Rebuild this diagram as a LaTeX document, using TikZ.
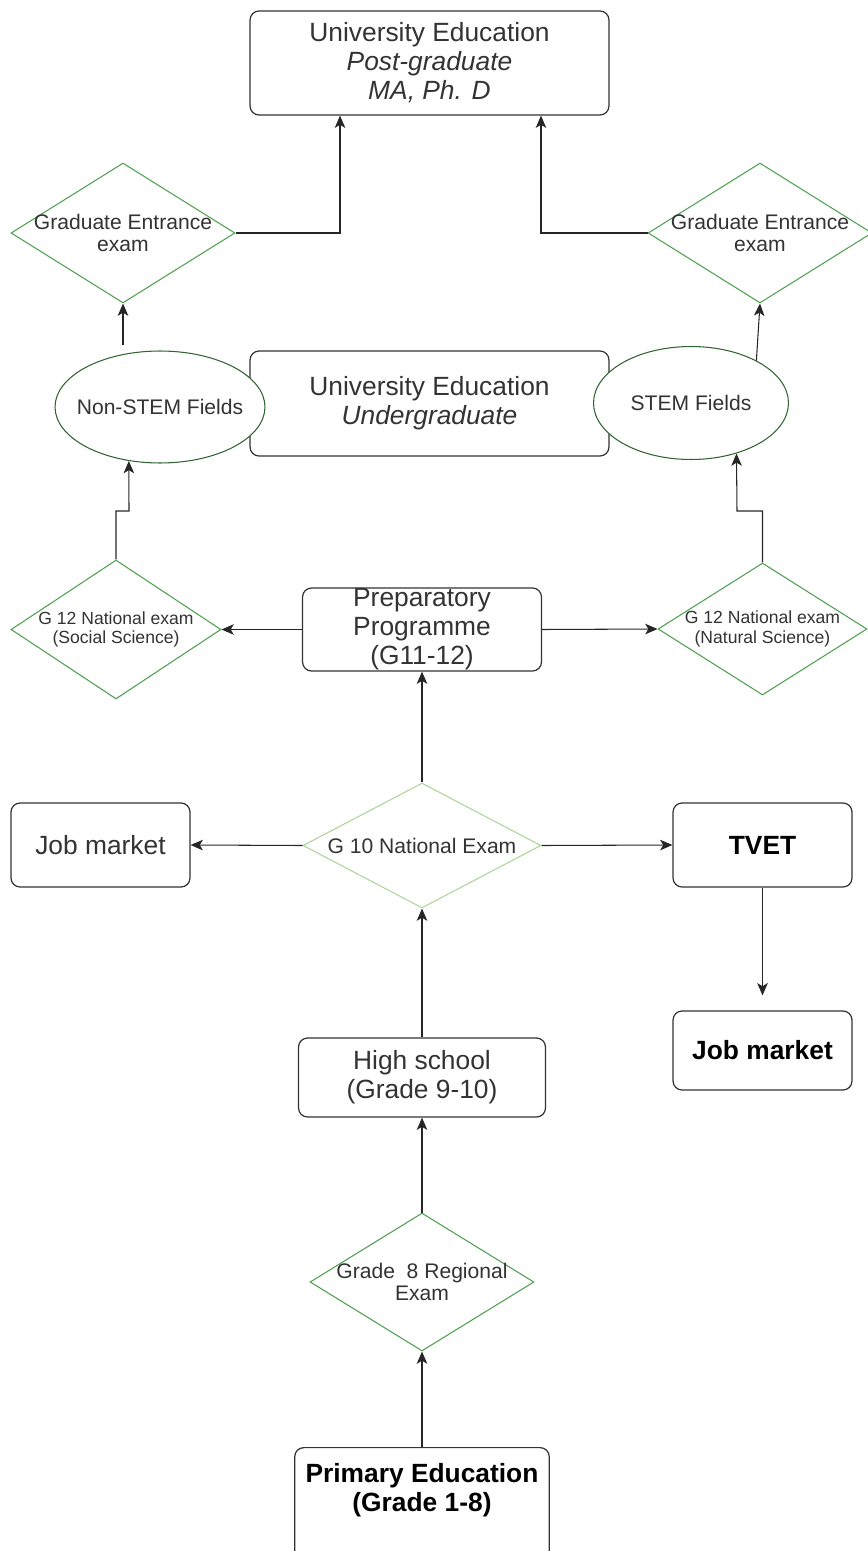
\documentclass[tikz,border=0pt]{standalone}
\usepackage{fontspec}
\setmainfont{Liberation Sans}
\usetikzlibrary{shapes.geometric,arrows.meta}
\definecolor{boxgray}{RGB}{51,51,51}
\definecolor{examgreen}{RGB}{80,160,80}
\definecolor{fieldgreen}{RGB}{50,100,50}
\definecolor{lightgreen}{RGB}{170,215,150}

\begin{document}
\begin{tikzpicture}[x=0.02cm,y=-0.02cm]
\tikzset{box/.style = {shape=rectangle,rounded corners=0.18cm,draw=boxgray,line width=0.7pt,fill=white,inner sep=0pt,align=center,text=boxgray,font=\fontsize{15}{16.5}\selectfont}}
\tikzset{boldtext/.style = {align=center,text=black,font=\fontsize{15}{16.5}\selectfont\bfseries}}
\tikzset{boldbox/.style = {box,boldtext}}
\tikzset{exam/.style = {shape=diamond,draw=examgreen,line width=0.6pt,fill=white,inner sep=0pt}}
\tikzset{examtext/.style = {align=center,text=boxgray,font=\fontsize{12}{13}\selectfont}}
\tikzset{smallexam/.style = {examtext,font=\fontsize{10}{11}\selectfont}}
\tikzset{field/.style = {shape=ellipse,draw=fieldgreen,line width=0.6pt,fill=white,inner sep=0pt}}
\tikzset{edge/.style = {-{Stealth[length=7pt,width=6pt,inset=1.8pt]},line width=0.6pt,draw=black!85}}
\useasboundingbox (0,0) rectangle (868,1551);
\clip (0,0) rectangle (868,1551);

% university
\node[box,minimum width=7.18cm,minimum height=2.08cm] (postgrad) at (429.5,63) {University Education\\\textit{Post-graduate}\\\textit{MA, Ph. D}};
\node[exam,minimum width=4.48cm,minimum height=2.8cm,label={[examtext]center:{Graduate Entrance\\exam}}] (gre1) at (123,233) {};
\node[exam,minimum width=4.48cm,minimum height=2.8cm,label={[examtext]center:{Graduate Entrance\\exam}}] (gre2) at (760,233) {};
\node[box,minimum width=7.18cm,minimum height=2.1cm] (undergrad) at (429.5,403.5) {University Education\\\textit{Undergraduate}};
\node[field,minimum width=4.2cm,minimum height=2.24cm,label={[examtext]center:Non-STEM Fields}] (nonstem) at (160,407) {};
\node[field,minimum width=3.9cm,minimum height=2.26cm,label={[examtext]center:STEM Fields}] (stem) at (691,403) {};

% secondary
\node[box,minimum width=4.78cm,minimum height=1.66cm] (prep) at (422,629.5) {Preparatory\\Programme\\(G11-12)};
\node[exam,minimum width=4.2cm,minimum height=2.78cm,label={[smallexam]center:{G 12 National exam\\(Social Science)}}] (g12s) at (116,629.5) {};
\node[exam,minimum width=4.18cm,minimum height=2.64cm,label={[smallexam]center:{G 12 National exam\\(Natural Science)}}] (g12n) at (762.5,629) {};
\node[exam,draw=lightgreen,minimum width=4.76cm,minimum height=2.5cm,label={[examtext]center:G 10 National Exam}] (g10) at (422,845.5) {};
\node[box,minimum width=3.58cm,minimum height=1.68cm] (jobl) at (100.5,845) {Job market};
\node[boldbox,minimum width=3.58cm,minimum height=1.68cm] (tvet) at (762.5,845) {TVET};
\node[boldbox,minimum width=3.58cm,minimum height=1.58cm] (jobr) at (762.5,1050.5) {Job market};
\node[box,minimum width=4.94cm,minimum height=1.58cm] (high) at (422,1077.5) {High school\\(Grade 9-10)};

% primary
\node[exam,minimum width=4.48cm,minimum height=2.76cm,label={[examtext]center:{Grade\ \ 8 Regional\\Exam}}] (g8) at (422,1282) {};
\node[box,anchor=north,minimum width=5.09cm,minimum height=2.6cm,label={[boldtext,anchor=north,yshift=-0.2cm]north:{Primary Education\\(Grade 1-8)}}] (primary) at (422,1447) {};

\draw[edge] (primary.north) -- (g8.south);
\draw[edge] (g8.north) -- (high.south);
\draw[edge] (high.north) -- (g10.south);
\draw[edge] (g10.north) -- (prep.south);
\draw[edge] (g10.west) -- (jobl.east);
\draw[edge] (g10.east) -- (tvet.west);
\draw[edge,shorten >=0.3cm] (tvet.south) -- (jobr.north);
\draw[edge] (prep.west) -- (g12s.east);
\draw[edge] (prep.east) -- (g12n.west);
\coordinate (jogl) at (129,511);
\coordinate (jogr) at (737,511);
\draw[edge] (g12s.north) |- (jogl) -- (nonstem.240);
\draw[edge] (g12n.north) |- (jogr) -- (stem.312);
\coordinate (nsout) at (123,345);
\draw[edge] (nsout) -- (gre1.south);
\draw[edge] (stem.33) -- (gre2.south);
\draw[edge] (gre1.east) -| ([xshift=-1.79cm]postgrad.south);
\draw[edge] (gre2.west) -| ([xshift=2.23cm]postgrad.south);
\end{tikzpicture}
\end{document}
